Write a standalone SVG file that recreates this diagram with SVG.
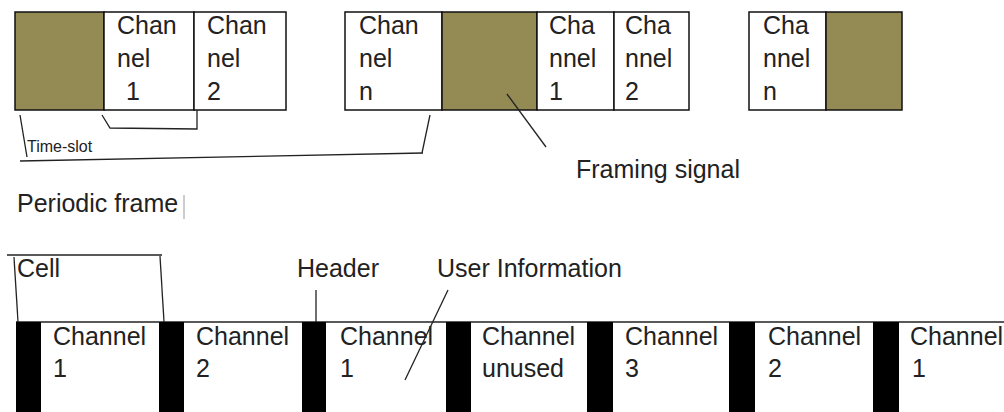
<svg xmlns="http://www.w3.org/2000/svg" width="1004" height="412" viewBox="0 0 1004 412">
<style>
text{font-family:"Liberation Sans",Arial,sans-serif;font-size:25px;fill:#222}
.box{fill:#fff;stroke:#111;stroke-width:1.5}
.olive{fill:#948A54;stroke:#111;stroke-width:1.5}
.bar{fill:#000}
.ln{fill:none;stroke:#222;stroke-width:1.3}
.small{font-size:16px}
</style>
<rect width="1004" height="412" fill="#fff"/>
<g id="frame-top">
<g id="fs1"><rect class="olive" x="15" y="12" width="89" height="98"/></g>
<g id="ch1"><rect class="box" x="104" y="12" width="90" height="98"/><text x="117" y="34">Chan</text><text x="117" y="67">nel</text><text x="126" y="100">1</text></g>
<g id="ch2"><rect class="box" x="194" y="12" width="92" height="98"/><text x="207" y="34">Chan</text><text x="207" y="67">nel</text><text x="207" y="100">2</text></g>
<g id="chn"><rect class="box" x="345" y="12" width="97" height="98"/><text x="359" y="34">Chan</text><text x="359" y="67">nel</text><text x="359" y="100">n</text></g>
<g id="fs2"><rect class="olive" x="442" y="12" width="95" height="98"/></g>
<g id="cha1"><rect class="box" x="537" y="12" width="77" height="98"/><text x="549" y="34">Cha</text><text x="549" y="67">nnel</text><text x="549" y="100">1</text></g>
<g id="cha2"><rect class="box" x="614" y="12" width="75" height="98"/><text x="625" y="34">Cha</text><text x="625" y="67">nnel</text><text x="625" y="100">2</text></g>
<g id="chan2"><rect class="box" x="749" y="12" width="77" height="98"/><text x="763" y="34">Cha</text><text x="763" y="67">nnel</text><text x="763" y="100">n</text></g>
<g id="fs3"><rect class="olive" x="826" y="12" width="76" height="98"/></g>
</g>
<g id="labels-top">
<text class="small" x="27" y="152">Time-slot</text>
<text x="576" y="178">Framing signal</text>
<text x="17" y="212">Periodic frame</text>
<line x1="184" y1="195" x2="184" y2="219" stroke="#999" stroke-width="1"/>
</g>
<g id="bottom-row">
<line class="ln" x1="16" y1="322" x2="1004" y2="322" stroke-width="1.5"/>
<g id="c1"><rect class="bar" x="16" y="322" width="25" height="90"/><text x="53" y="345">Channel</text><text x="53" y="377">1</text></g>
<g id="c2"><rect class="bar" x="159" y="322" width="25" height="90"/><text x="196" y="345">Channel</text><text x="196" y="377">2</text></g>
<g id="c3"><rect class="bar" x="302" y="322" width="24" height="90"/><text x="340" y="345">Channel</text><text x="340" y="377">1</text></g>
<g id="c4"><rect class="bar" x="446" y="322" width="25" height="90"/><text x="482" y="345">Channel</text><text x="482" y="377">unused</text></g>
<g id="c5"><rect class="bar" x="587" y="322" width="26" height="90"/><text x="625" y="345">Channel</text><text x="625" y="377">3</text></g>
<g id="c6"><rect class="bar" x="729" y="322" width="26" height="90"/><text x="768" y="345">Channel</text><text x="768" y="377">2</text></g>
<g id="c7"><rect class="bar" x="873" y="322" width="26" height="90"/><text x="910" y="345">Channel</text><text x="912" y="377">1</text></g>
</g>
<g id="labels-bottom">
<text x="17" y="277">Cell</text>
<text x="297" y="277">Header</text>
<text x="437" y="277">User Information</text>
</g>
<g id="connectors">
<polyline class="ln" points="102,115 110,128 197,129 197,110"/>
<line class="ln" x1="20" y1="115" x2="27" y2="157"/>
<line class="ln" x1="20" y1="161" x2="423" y2="153"/>
<line class="ln" x1="430" y1="115" x2="422" y2="153"/>
<line class="ln" x1="507" y1="94" x2="546" y2="147"/>
<polyline class="ln" points="18,322 14,257"/>
<line class="ln" x1="7" y1="255" x2="162" y2="255"/>
<line class="ln" x1="160" y1="256" x2="164" y2="322"/>
<line class="ln" x1="316" y1="290" x2="316" y2="322"/>
<line class="ln" x1="448" y1="290" x2="405" y2="380"/>
</g>
</svg>
